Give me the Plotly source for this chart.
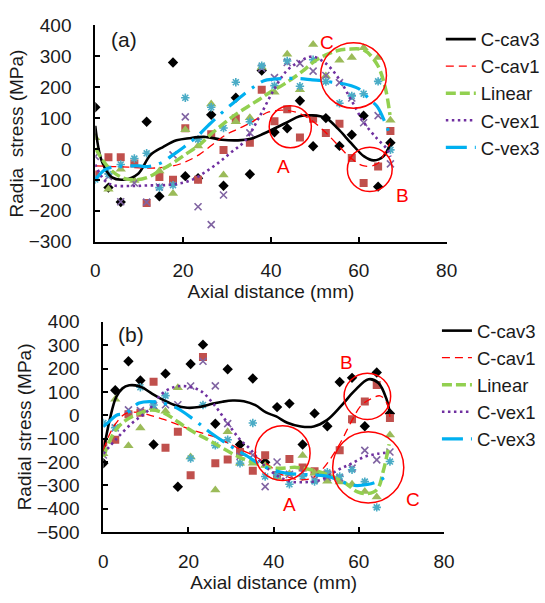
import plotly.graph_objects as go

# ---------------- data: panel (a) ----------------
xa = [0, 3.0, 5.8, 8.9, 11.7, 14.6, 17.7, 20.5, 23.4, 26.4, 29.2, 32.0,
      35.2, 37.9, 40.8, 43.7, 46.6, 49.6, 52.5, 55.6, 58.4, 61.1, 64.4, 67.2]
a_cav3 = [135, -125, -172, None, 88, -153, 280, -88, -95, 111, -119, 166,
          -82, 254, 54, 67, 156, 9, 100, 10, 46, 108, -122, 20]
a_cav1 = [-83, -27, -27, -47, -175, -91, -100, 67, -100, 48, -3, 99,
          20, 192, 90, 129, 37, 98, 52, 82, -29, -110, -57, 58]
a_lin = [36, -130, -66, -102, None, -71, -144, 62, 10, 146, -84, 88,
         101, 265, 184, 307, 192, 338, 236, 287, 296, 328, 296, 93]
a_vex1 = [-24, -89, -171, -110, -172, -123, -19, 104, -187, -245, -149, None,
          52, 262, 231, 280, 277, 252, 238, 215, 165, 85, 108, -48]
a_vex3 = [-99, -81, -50, -31, -14, -125, -117, 166, 31, 135, 68, 216,
          88, 270, 205, 285, 203, 289, 218, 148, 172, 179, 219, -3]

# trend lines (a)
a_cav3_lx = [0, 1.5, 3.8, 6.7, 9.7, 12.6, 15.5, 18.5, 21.4, 25.1, 28.8, 32.5, 35.4,
             38.4, 43.5, 46.5, 49.4, 52.4, 55.3, 58.3, 61.2, 63.4, 65.6, 67.3]
a_cav3_ly = [75, -40, -92, -99, -81, -19, 7, 28, 35, 39, 30, 28, 33,
             50, 85, 106, 109, 101, 65, 18, -24, -37, -24, 20]
a_cav1_lx = [0, 5, 9, 13, 17.7, 20.5, 23.6, 26.5, 29.5, 32.5, 35.4, 39.5, 43.5,
             46.5, 49.4, 52.4, 55.3, 58.3, 61.2, 64.2, 66, 67.1]
a_cav1_ly = [-55, -57, -60, -62, -55, -42, -19, 12, 44, 65, 85, 120, 125,
             115, 91, 54, 12, -31, -55, -48, -10, 18]
a_lin_lx = [0, 3, 6, 8.9, 11.9, 14.5, 17.7, 20.5, 23.6, 26.5, 29.5, 32, 34.7, 37.5,
            39.8, 43, 47.2, 50, 52.4, 55, 57.5, 61.2, 64.2, 66, 67.1]
a_lin_ly = [3, -60, -92, -100, -92, -72, -45, -18, 12, 50, 85, 112, 137, 162,
            184, 210, 252, 285, 304, 318, 323, 320, 273, 200, 110]
a_vex1_lx = [0, 2, 4, 8, 12, 16, 19, 22, 25, 28, 31, 34, 37.6, 40.6, 43.5,
             46.5, 49.4, 52.4, 55.3, 58.3, 61.2, 64.2, 66.4, 67.2]
a_vex1_ly = [-50, -100, -117, -120, -118, -117, -112, -100, -75, -45, -10, 25, 110, 190, 252,
             283, 299, 278, 231, 158, 85, 33, 0, -25]
a_vex3_lx = [0, 2.3, 5, 7.4, 10, 12, 15, 17.7, 20.5, 23.6, 26, 28.8, 31.5, 34, 36.5,
             38.4, 40.5, 42.8, 46.5, 49.4, 51.5, 53.9, 56, 58.3, 60, 61.2, 62.5, 64.2, 66, 67.2]
a_vex3_ly = [-100, -66, -57, -55, -55, -57, -45, -19, 10, 46, 80, 117, 150, 179, 205,
             221, 226, 228, 228, 224, 222, 216, 212, 205, 195, 179, 160, 137, 85, 40]

# ---------------- data: panel (b) ----------------
xb = [0, 2.8, 5.9, 8.7, 11.8, 14.6, 17.5, 20.5, 23.4, 26.3, 29.2, 32.1,
      35.1, 38.0, 40.8, 43.7, 46.8, 49.6, 52.6, 55.5, 58.4, 61.4, 64.2, 67.3]
b_cav3 = [-205, 107, 231, 149, -125, 178, -306, 219, 302, -36, 197, -125,
          157, -201, 35, 50, -125, 8, -47, 142, 160, -47, 183, 8]
b_cav1 = [-116, -105, 4, 11, 143, -139, -70, -257, 249, -205, -189, -157,
          -237, -171, -256, -187, -223, -240, -253, -150, -17, 59, 129, -12]
b_lin = [-165, 68, -130, -55, 32, 17, 118, -178, None, -320, -70, -205,
         -205, -215, -265, -250, -172, -248, -282, -285, -295, -326, -350, -84]
b_vex1 = [-170, -54, 23, 20, 41, 45, 45, 125, 231, 126, -36, -176,
          -170, -305, -200, -253, -245, -275, -265, -268, -226, -150, -191, -157]
b_vex3 = [-33, -53, None, 120, 44, 84, None, -185, 44, -129, -105, -205,
          -33, -262, -255, -295, -262, -283, -244, -262, -233, -284, -394, -198]

# trend lines (b)
b_cav3_lx = [0, 1.5, 3, 4.5, 6.1, 7.5, 9.1, 11.5, 14.4, 17, 19.7, 22.5, 25.8, 28, 30.4,
             33, 35.7, 38.2, 40.6, 43.2, 46.4, 49.4, 52.5, 55.9, 58.9, 62.3, 64.6, 66.5, 67.3]
b_cav3_ly = [-157, -19, 77, 115, 128, 128, 119, 92, 63, 42, 32, 35, 50, 58, 63,
             60, 43, 12, -5, -32, -48, -48, -21, 41, 103, 154, 138, 69, 5]
b_cav1_lx = [0, 1.5, 3, 5.3, 8.4, 11, 14.4, 17.5, 20.5, 23.5, 26.6, 29.6, 32.7, 35.5, 38.2,
             41.5, 44, 46, 49, 51.3, 53.6, 55.9, 58.2, 60.5, 62.7, 65, 66.5, 67.3]
b_cav1_ly = [-150, -80, -33, 8, 12, 0, -19, -40, -61, -78, -95, -122, -150, -175, -205,
             -250, -268, -276, -269, -234, -179, -110, -28, 41, 69, 83, 55, -7]
b_lin_lx = [0, 1.5, 3, 5, 6.8, 9, 11.4, 14.4, 16.5, 19, 21.5, 24.3, 27, 29.6, 32, 34.2,
            36.5, 38.7, 41.5, 45.3, 49, 52.8, 56.7, 59.7, 62, 64.3, 65.8, 67.1]
b_lin_ly = [-178, -110, -61, -25, -5, 12, 22, 8, -15, -47, -75, -102, -130, -157, -180, -195,
            -210, -222, -227, -223, -234, -255, -289, -328, -335, -317, -234, -124]
b_vex1_lx = [0, 3, 6.8, 10.6, 13.7, 16.7, 19.4, 22.8, 25.8, 28.9, 31.9, 34.5, 37,
             40, 43.7, 47.5, 51.3, 55.1, 58.2, 61.2, 64.3, 66.7]
b_vex1_ly = [-165, -102, -33, 22, 91, 121, 124, 105, 50, -26, -100, -145, -200,
             -248, -282, -286, -275, -234, -207, -179, -165, -160]
b_vex3_lx = [0, 1.5, 3.1, 5.3, 8.4, 12.2, 16.7, 21.3, 25.1, 29.6, 33.4, 38.4, 43,
             49, 52.8, 56.7, 58.9, 62, 64.6, 66.8]
b_vex3_ly = [-48, -25, 0, 8, 52, 57, 36, -19, -74, -129, -171, -225, -248,
             -255, -262, -289, -300, -296, -282, -255]

names = ["C-cav3", "C-cav1", "Linear", "C-vex1", "C-vex3"]

FONT = "Liberation Sans, Arial, sans-serif"
TXT = "#1a1a1a"

marker_styles = [
    dict(symbol="diamond", size=8, color="#000000"),
    dict(symbol="square", size=8, color="#C0504D"),
    dict(symbol="triangle-up", size=9, color="#9BBB59"),
    dict(symbol="x-thin-open", size=7, color="#8064A2", line=dict(color="#8064A2", width=1.6)),
    dict(symbol="asterisk-open", size=7, color="#4BACC6", line=dict(color="#4BACC6", width=1.6)),
]
line_styles = [
    dict(color="#000000", width=2.6),
    dict(color="#FF0000", width=1.3, dash="8px,5px"),
    dict(color="#92D050", width=3.5, dash="10px,4px"),
    dict(color="#7030A0", width=2.6, dash="2.5px,3.5px"),
    dict(color="#00B0F0", width=3.2, dash="21px,8px,3px,8px"),
]

fig = go.Figure()

panels = [
    ("x", "y", "legend", xa, [a_cav3, a_cav1, a_lin, a_vex1, a_vex3],
     [(a_cav3_lx, a_cav3_ly), (a_cav1_lx, a_cav1_ly), (a_lin_lx, a_lin_ly),
      (a_vex1_lx, a_vex1_ly), (a_vex3_lx, a_vex3_ly)]),
    ("x2", "y2", "legend2", xb, [b_cav3, b_cav1, b_lin, b_vex1, b_vex3],
     [(b_cav3_lx, b_cav3_ly), (b_cav1_lx, b_cav1_ly), (b_lin_lx, b_lin_ly),
      (b_vex1_lx, b_vex1_ly), (b_vex3_lx, b_vex3_ly)]),
]

for xr, yr, lg, xs, ys_list, lines in panels:
    for i, ys in enumerate(ys_list):
        fig.add_trace(go.Scatter(x=xs, y=ys, mode="markers", marker=marker_styles[i],
                                 xaxis=xr, yaxis=yr, showlegend=False, hoverinfo="skip"))
    for i, (lx, ly) in enumerate(lines):
        fig.add_trace(go.Scatter(x=lx, y=ly, mode="lines",
                                 line=dict(shape="spline", smoothing=1.0, **line_styles[i]),
                                 name=names[i], xaxis=xr, yaxis=yr, legend=lg, showlegend=True))

W, H = 545, 603

def axis_common(standoff):
    return dict(showline=True, linecolor="black", linewidth=2, ticks="inside", ticklen=5,
                tickwidth=1.5, tickcolor="black", showgrid=False, zeroline=False,
                tickfont=dict(family=FONT, size=19, color=TXT), ticklabelstandoff=standoff)

xaxis = axis_common(11)
xaxis.update(domain=[93 / W, 455 / W], range=[0, 80], dtick=20, tick0=0, anchor="y",
             title=dict(text="Axial distance (mm)", font=dict(family=FONT, size=19, color=TXT), standoff=0))
yaxis = axis_common(18)
yaxis.update(domain=[1 - 240 / H, 1 - 16 / H], range=[-300, 400], dtick=100, tick0=0, anchor="x",
             title=dict(text="Radia  stress (MPa)", font=dict(family=FONT, size=19, color=TXT), standoff=0))
xaxis2 = axis_common(11)
xaxis2.update(domain=[101.3 / W, 452.3 / W], range=[0, 80], dtick=20, tick0=0, anchor="y2",
              title=dict(text="Axial distance (mm)", font=dict(family=FONT, size=19, color=TXT), standoff=0))
yaxis2 = axis_common(18)
yaxis2.update(domain=[1 - 541 / H, 1 - 323 / H], range=[-500, 400], dtick=100, tick0=0, anchor="x2",
              title=dict(text="Radial stress (MPa)", font=dict(family=FONT, size=19, color=TXT), standoff=0))

RED = "#FF0000"
shapes = []
def circ(xr, yr, cx, cy, rx, ry):
    shapes.append(dict(type="circle", xref=xr, yref=yr, x0=cx - rx, x1=cx + rx, y0=cy - ry, y1=cy + ry,
                       line=dict(color=RED, width=1.5)))
circ("x", "y", 44.4, 72, 4.8, 68)
circ("x", "y", 62.5, -66, 5.1, 72)
circ("x", "y", 58.8, 238, 7.5, 106)
circ("x2", "y2", 42.1, -162, 6.45, 117)
circ("x2", "y2", 62.0, 81, 5.47, 99)
circ("x2", "y2", 62.2, -223, 8.35, 152)

annots = []
def lab(xr, yr, x, y, t, color=RED, size=19):
    annots.append(dict(xref=xr, yref=yr, x=x, y=y, text=t, showarrow=False,
                       font=dict(family=FONT, size=size, color=color)))
lab("x", "y", 42.8, -57, "A")
lab("x", "y", 70.0, -149, "B")
lab("x", "y", 52.7, 346, "C")
lab("x2", "y2", 43.7, -383, "A")
lab("x2", "y2", 57.2, 224, "B")
lab("x2", "y2", 72.6, -361, "C")
lab("x", "y", 6.5, 356, "(a)", color=TXT, size=21)
lab("x2", "y2", 6.4, 346, "(b)", color=TXT, size=21)

legend_common = dict(bgcolor="rgba(0,0,0,0)", font=dict(family=FONT, size=18.5, color=TXT),
                     xanchor="left", yanchor="top", traceorder="normal")

fig.update_layout(
    width=W, height=H, margin=dict(l=0, r=0, t=0, b=0),
    paper_bgcolor="white", plot_bgcolor="white",
    xaxis=xaxis, yaxis=yaxis, xaxis2=xaxis2, yaxis2=yaxis2,
    shapes=shapes, annotations=annots,
    legend=dict(x=449 / W, y=1 - 11 / H, **legend_common),
    legend2=dict(x=445 / W, y=1 - 313 / H, **legend_common),
)

fig.write_html("out.html")
